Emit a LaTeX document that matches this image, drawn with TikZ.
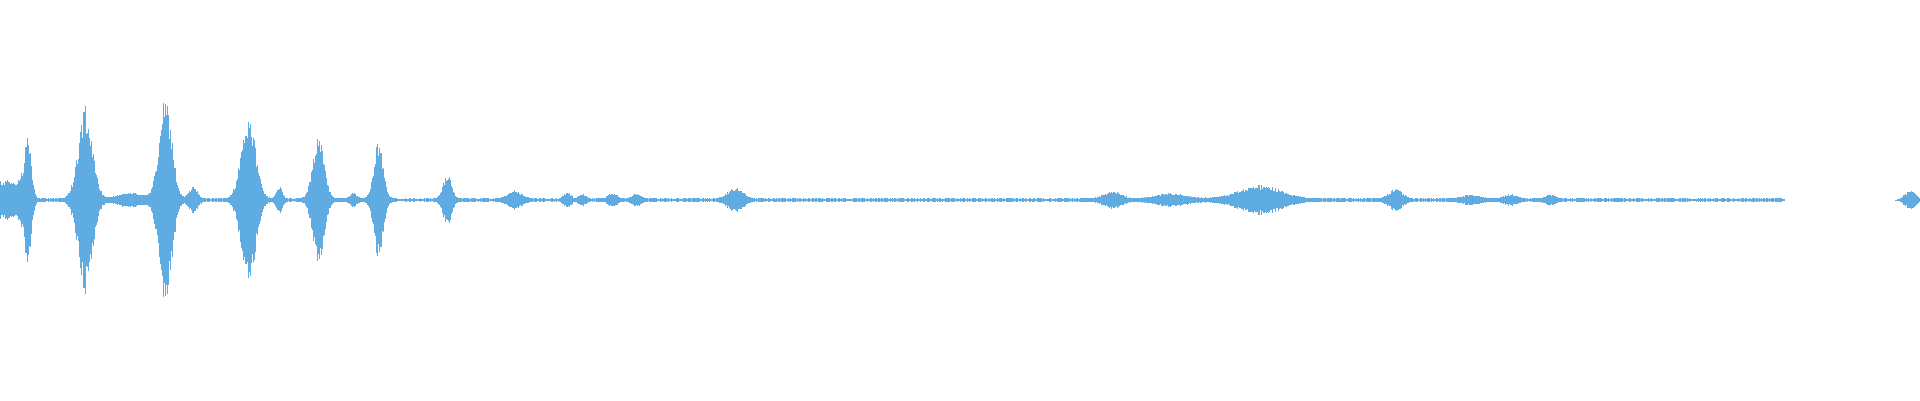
\documentclass[tikz,border=0pt]{standalone}
\definecolor{wave}{RGB}{94,172,226}
\tikzset{declare function={
g(\x,\c,\s)=exp(-(min(abs((\x-\c)/\s),6))^2);
env(\x)=1.8*(\x<1785)+18*(\x<22)
+65*g(\x,27,5)+92*g(\x,85,10)+104*g(\x,165,9)+84*g(\x,248,10)+62*g(\x,318,8)+58*g(\x,378,6.5)+24*g(\x,447,6)
+6*g(\x,130,18)+12*g(\x,193,6)+13*g(\x,279,4)+7*g(\x,353,4)+8*g(\x,514,10)+6*g(\x,567,5)+5*g(\x,582,4)+6*g(\x,612,6)+5*g(\x,636,6)
+11*g(\x,735,10)+7*g(\x,1112,12)+5*g(\x,1170,22)+13*g(\x,1260,30)+10*g(\x,1395,9)+4*g(\x,1470,12)+4*g(\x,1510,9)+4*g(\x,1550,7)+10*g(\x,1910,8);},
wl/.style={wave,line width=0.9pt}}
\begin{document}
\begin{tikzpicture}[x=1pt,y=1pt]
\useasboundingbox (0,-200) rectangle (1920,200);
\pgfmathsetseed{7}
\foreach \x in {0,1,...,1920}{
  \pgfmathsetmacro\a{env(\x)*(0.7+0.3*rnd)}
  \ifdim\a pt>0.2pt \draw[wl] (\x,-\a) -- (\x,\a);\fi
}
\end{tikzpicture}
\end{document}
